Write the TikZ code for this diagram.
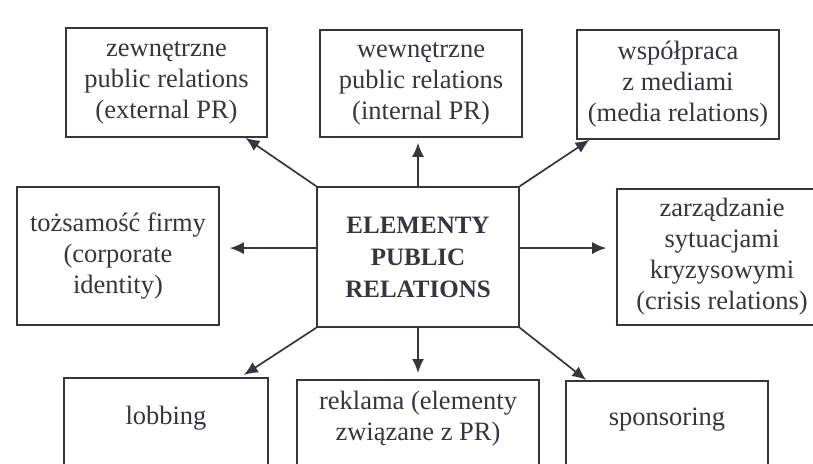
\documentclass[tikz,border=0pt]{standalone}
\usepackage{fontspec}
\setmainfont{Liberation Serif}
\usetikzlibrary{arrows.meta,calc}
\definecolor{inkgray}{HTML}{35353F}

\begin{document}
\begin{tikzpicture}[x=1pt,y=-1pt,
  box/.style={draw=inkgray,line width=1.6pt,text=inkgray,align=center,inner sep=0pt,
    font=\fontsize{26.5}{31}\selectfont},
  lowbox/.style={box,anchor=north,inner sep=0pt,text depth=75pt},
  arr/.style={draw=inkgray,line width=1.7pt,-{Latex[length=14pt,width=12pt]}}]
  \useasboundingbox (0,0) rectangle (813,463);
  \clip (0,0) rectangle (813,463);

  \node[box,minimum width=201pt,minimum height=109pt] (ext) at (166.5,82.5) {zewnętrzne\\public relations\\(external PR)};
  \node[box,minimum width=202pt,minimum height=107pt] (int) at (421,83.5) {wewnętrzne\\public relations\\(internal PR)};
  \node[box,minimum width=202pt,minimum height=109pt] (media) at (678,84.5) {współpraca\\z mediami\\(media relations)};

  \node[box,minimum width=202pt,minimum height=138pt] (corp) at (118,256) {tożsamość firmy\\(corporate\\identity)};
  \node[box,minimum width=202pt,minimum height=140pt,font=\fontsize{25}{32}\bfseries\selectfont] (central) at (418,257) {ELEMENTY\\PUBLIC\\RELATIONS};
  \node[box,minimum width=210pt,minimum height=136pt] (crisis) at (722,257) {zarządzanie\\sytuacjami\\kryzysowymi\\(crisis relations)};

  \node[lowbox,minimum width=204pt,text height=47pt] (lobbing) at (166,377) {lobbing};
  \node[lowbox,minimum width=242pt,text height=61pt] (reklama) at (418,379) {reklama (elementy\\związane z PR)};
  \node[lowbox,minimum width=202pt,text height=45pt] (sponsor) at (667,380) {sponsoring};

  \foreach \from/\to in {central.north west/ext.-35, central.north east/media.212}
    \draw[arr] (\from) -- (\to);
  \draw[arr,shorten >=5pt] (central.north) -- (int.south -| central.north);
  \draw[arr,shorten >=10pt] (central.175) -- (corp.east |- central.175);
  \draw[arr,shorten >=10pt] (central.5) -- (crisis.west |- central.5);
  \draw[arr] (central.south west) -- ($(lobbing.north east)+(-25,-2)$);
  \draw[arr,shorten >=6pt] (central.south) -- (reklama.north);
  \draw[arr] (central.south east) -- ($(sponsor.north west)+(21,0)$);
\end{tikzpicture}
\end{document}
